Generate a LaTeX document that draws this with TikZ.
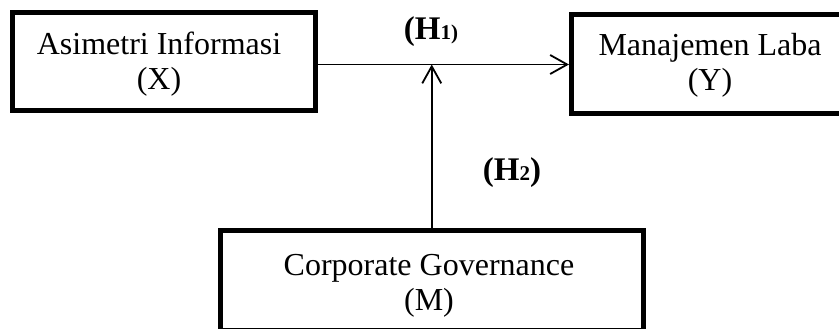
\documentclass[tikz,border=0pt]{standalone}
\usepackage{fontspec}
\setmainfont{Liberation Serif}
\usetikzlibrary{arrows.meta}
\begin{document}
\begin{tikzpicture}[x=1pt,y=-1pt,
  varbox/.style={draw,line width=5pt,inner sep=0pt},
  vartext/.style={inner sep=0pt,align=center,font=\fontsize{32}{35}\selectfont},
  link/.style={line width=1.8pt,-{Straight Barb[length=17pt,width=19pt,line width=1.8pt]}},
  hyplabel/.style={inner sep=0pt,font=\bfseries\fontsize{33}{33}\selectfont}]
\useasboundingbox (0,0) rectangle (839,329);
\node[varbox,minimum width=302.5pt,minimum height=98pt] (X) at (163.75,61.5) {};
\node[varbox,minimum width=276.5pt,minimum height=99.5pt] (Y) at (709.75,64.25) {};
\node[varbox,minimum width=422.5pt,minimum height=100pt] (M) at (431.75,280.5) {};
\node[vartext] (Xt) at (159,64) {Asimetri Informasi\\(X)};
\node[vartext] (Yt) at (710,65) {Manajemen Laba\\(Y)};
\node[vartext] (Mt) at (429,286) {Corporate Governance\\(M)};
\coordinate (J) at (431.75,64.5);
\draw[link] (X.east |- J) -- (Y.west |- J);
\draw[link] (M.north -| J) -- (J);
\node[hyplabel] (H1) at (431,32) {(H{\fontsize{21}{21}\selectfont 1)}};
\node[hyplabel] (H2) at (512,173) {(H{\fontsize{21}{21}\selectfont 2})};
\end{tikzpicture}
\end{document}
